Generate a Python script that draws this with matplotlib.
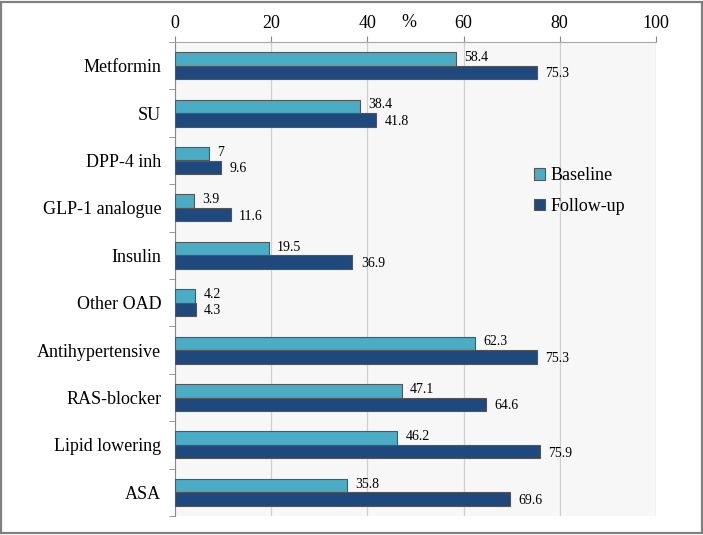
import numpy as np
import matplotlib.pyplot as plt
from matplotlib.patches import Rectangle

plt.rcParams['font.family'] = ['Liberation Serif', 'DejaVu Serif']

categories = ["Metformin", "SU", "DPP-4 inh", "GLP-1 analogue", "Insulin",
              "Other OAD", "Antihypertensive", "RAS-blocker", "Lipid lowering", "ASA"]
baseline = [58.4, 38.4, 7, 3.9, 19.5, 4.2, 62.3, 47.1, 46.2, 35.8]
followup = [75.3, 41.8, 9.6, 11.6, 36.9, 4.3, 75.3, 64.6, 75.9, 69.6]
baseline_labels = ["58.4", "38.4", "7", "3.9", "19.5", "4.2", "62.3", "47.1", "46.2", "35.8"]
followup_labels = ["75.3", "41.8", "9.6", "11.6", "36.9", "4.3", "75.3", "64.6", "75.9", "69.6"]

c_base = '#4bacc6'
c_follow = '#1f497d'

fig = plt.figure(figsize=(7.03, 5.35), dpi=100)
ax = fig.add_axes([0.249, 0.0355, 0.684, 0.886])
ax.set_facecolor('#f7f7f7')

y = np.arange(len(categories))
h = 0.285
ax.barh(y - h / 2, baseline, height=h, color=c_base, edgecolor='#555555', linewidth=0.8,
        label='Baseline', zorder=3)
ax.barh(y + h / 2, followup, height=h, color=c_follow, edgecolor='#555555', linewidth=0.8,
        label='Follow-up', zorder=3)

for i in range(len(categories)):
    ax.annotate(baseline_labels[i], (baseline[i], y[i] - h / 2), xytext=(6, 1),
                textcoords='offset points', va='center', ha='left', fontsize=10)
    ax.annotate(followup_labels[i], (followup[i], y[i] + h / 2), xytext=(6, -1),
                textcoords='offset points', va='center', ha='left', fontsize=10)

ax.set_xlim(0, 100)
ax.set_ylim(len(categories) - 0.5, -0.5)
ax.xaxis.tick_top()
ax.set_xticks(np.arange(0, 101, 20))
ax.tick_params(axis='x', length=4, color='#888888', labelsize=13, pad=3)
ax.grid(axis='x', color='#d0d0d0', linewidth=0.9, zorder=0)

ax.set_yticks(y)
ax.set_yticklabels(categories, fontsize=13)
ax.tick_params(axis='y', length=0, pad=10)
ax.set_yticks(np.arange(-0.5, len(categories)), minor=True)
ax.tick_params(axis='y', which='minor', length=4, color='#888888')

for s in ['right', 'bottom']:
    ax.spines[s].set_visible(False)
ax.spines['left'].set_color('#888888')
ax.spines['top'].set_color('#aaaaaa')

ax.text(48.6, 1.024, '%', transform=ax.get_xaxis_transform(), fontsize=13,
        ha='center', va='bottom')

ax.legend(loc='upper left', bbox_to_anchor=(0.713, 0.77), frameon=False, fontsize=13,
          handlelength=0.6, handleheight=0.6, handletextpad=0.3, labelspacing=0.75)

fig.patches.append(Rectangle((0.002, 0.003), 0.996, 0.994, transform=fig.transFigure,
                             fill=False, edgecolor='#808080', linewidth=1.6))

fig.savefig('out.png', dpi=100)
